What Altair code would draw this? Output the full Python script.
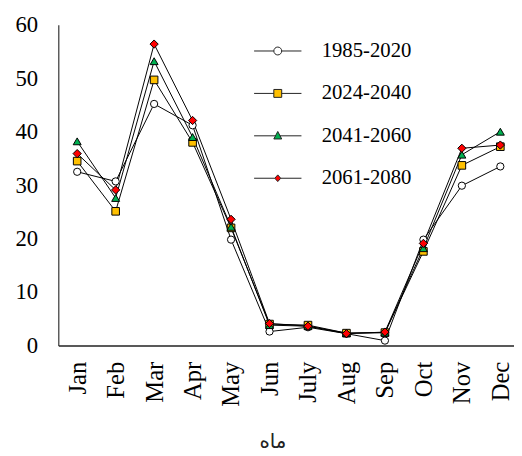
import altair as alt
import pandas as pd

months = ["Jan", "Feb", "Mar", "Apr", "May", "Jun", "July", "Aug", "Sep", "Oct", "Nov", "Dec"]
periods = ["1985-2020", "2024-2040", "2041-2060", "2061-2080"]

v_1985_2020 = [32.5, 30.7, 45.2, 41.2, 19.8, 2.6, 3.4, 2.2, 0.9, 19.8, 29.9, 33.5]
v_2024_2040 = [34.5, 25.1, 49.7, 38.0, 22.0, 4.0, 3.8, 2.3, 2.4, 17.6, 33.7, 37.2]
v_2041_2060 = [38.2, 27.6, 53.2, 39.0, 22.2, 3.8, 3.6, 2.3, 2.4, 18.2, 35.7, 40.0]
v_2061_2080 = [35.9, 29.1, 56.4, 42.1, 23.6, 4.1, 3.6, 2.2, 2.5, 19.1, 36.9, 37.5]

series = [v_1985_2020, v_2024_2040, v_2041_2060, v_2061_2080]
y_ticks = [0, 10, 20, 30, 40, 50, 60]

fills = ["#FFFFFF", "#FFC000", "#00B050", "#FF0000"]
shapes = ["circle", "square", "triangle-up", "diamond"]
sizes = [54, 70, 60, 40]
legend_paths = [
    "M-6,0H-1M1,0H6M1,0A1,1 0 1,1 -1,0A1,1 0 1,1 1,0Z",
    "M-6,0H-1M1,0H6M-1,-1H1V1H-1Z",
    "M-6,0H-0.5M0.5,0H6M0,-1.1L1,0.8H-1Z",
    "M-6,0H-0.75M0.75,0H6M0,-0.85L0.75,0L0,0.85L-0.75,0Z",
]

rows = []
for p, vals in zip(periods, series):
    for m, v in zip(months, vals):
        rows.append({"month": m, "period": p, "value": v})
df = pd.DataFrame(rows)

serif = "Liberation Serif"

x_enc = alt.X(
    "month:N",
    sort=months,
    scale=alt.Scale(type="point", padding=0.423, align=0.58),
    axis=alt.Axis(
        labelAngle=270,
        labelFont=serif,
        labelFontSize=25,
        labelColor="#000000",
        labelPadding=16,
        ticks=False,
        grid=False,
        domainColor="#595959",
        domainWidth=2,
        title="ماه",
        titleFont="DejaVu Sans",
        titleFontSize=20,
        titleFontWeight="normal",
        titleColor="#222222",
        titleX=217,
        titleY=97,
        titleAlign="center",
        titleBaseline="middle",
    ),
)
y_enc = alt.Y(
    "value:Q",
    scale=alt.Scale(domain=[0, 60], nice=False),
    axis=alt.Axis(
        values=y_ticks,
        ticks=False,
        grid=False,
        labelFont=serif,
        labelFontSize=23,
        labelColor="#000000",
        labelPadding=21,
        domainColor="#333333",
        domainWidth=1.2,
        title=None,
    ),
)

base = alt.Chart(df)

lines = base.mark_line(color="black", strokeWidth=1).encode(
    x=x_enc, y=y_enc, detail="period:N"
)

points = base.mark_point(filled=True, stroke="black", strokeWidth=1, opacity=1).encode(
    x=x_enc,
    y=y_enc,
    shape=alt.Shape("period:N", scale=alt.Scale(domain=periods, range=shapes), legend=None),
    fill=alt.Fill("period:N", scale=alt.Scale(domain=periods, range=fills), legend=None),
    size=alt.Size("period:N", scale=alt.Scale(domain=periods, range=sizes), legend=None),
)

leg = alt.Legend(
    orient="none",
    legendX=212,
    legendY=16,
    padding=0,
    title=None,
    labelFont=serif,
    labelFontSize=21,
    labelColor="#000000",
    labelOffset=34,
    rowPadding=21,
    symbolSize=64,
    symbolStrokeWidth=1,
    symbolOpacity=1,
    direction="vertical",
)

legend_layer = base.transform_filter("false").mark_point(
    filled=False, stroke="#222222", size=64, strokeWidth=1, opacity=1
).encode(
    x=x_enc,
    y=y_enc,
    shape=alt.Shape("period:N", scale=alt.Scale(domain=periods, range=legend_paths), legend=leg),
    fill=alt.Fill("period:N", scale=alt.Scale(domain=periods, range=fills), legend=leg),
)

chart = (
    alt.layer(lines, points, legend_layer)
    .resolve_scale(shape="independent", fill="independent")
    .properties(
        width=462,
        height=325,
        autosize=alt.AutoSizeParams(type="none"),
        padding={"left": 51, "top": 14, "right": 0, "bottom": 108},
        background="white",
    )
    .configure_view(stroke=None)
)

chart.save("out.html", embed_options={"renderer": "svg", "actions": False})
